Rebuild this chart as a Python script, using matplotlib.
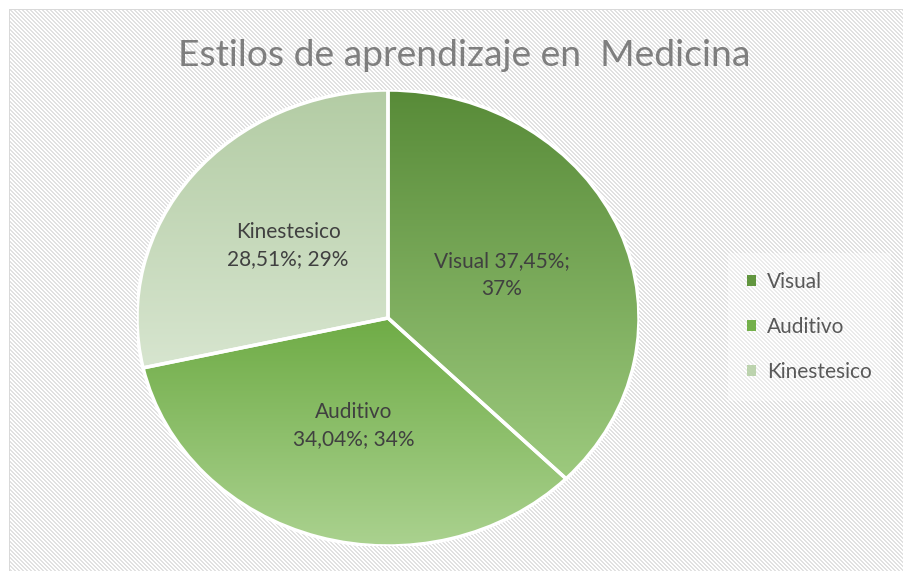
import numpy as np
import matplotlib
matplotlib.use('Agg')
from matplotlib import pyplot as plt
from matplotlib.patches import Wedge, Rectangle
from matplotlib.colors import LinearSegmentedColormap

plt.rcParams['font.family'] = ['Lato', 'DejaVu Sans']

# datos
categorias = ['Visual', 'Auditivo', 'Kinestesico']
porcentajes = [37.45, 34.04, 28.51]
etiquetas = ['Visual 37,45%;\n37%', 'Auditivo\n34,04%; 34%', 'Kinestesico\n28,51%; 29%']
titulo = 'Estilos de aprendizaje en  Medicina'

# colores (arriba, abajo) del degradado de cada sector
degradados = [('#588b38', '#9dca7e'), ('#6fac46', '#abd290'), ('#b3cca4', '#d7e5cf')]
colores_leyenda = ['#62963f', '#74b04b', '#bcd3ae']

W, H = 904, 571
fig = plt.figure(figsize=(W / 100, H / 100), dpi=100)
fig.patch.set_facecolor('white')

# fondo rayado
bg = fig.add_axes([0, 0, 1, 1])
yy, xx = np.mgrid[0:H, 0:W]
rayas = ((xx - yy) % 4) < 2
img = np.where(rayas, 0.88, 1.0)
img[yy < 9] = 1.0
img[xx < 9] = 1.0
img[(yy == 9) & (xx >= 9)] = 0.85
img[(xx == 9) & (yy >= 9)] = 0.85
bg.imshow(img, cmap='gray', vmin=0, vmax=1, extent=[0, W, H, 0], interpolation='nearest', aspect='auto')
bg.set_xlim(0, W)
bg.set_ylim(H, 0)
bg.axis('off')

# pastel
cx, cy, rx, ry = 388, 318, 251, 228
ax = fig.add_axes([(cx - rx) / W, 1 - (cy + ry) / H, 2 * rx / W, 2 * ry / H])
wedges, _ = ax.pie(porcentajes, startangle=90, counterclock=False, radius=1,
                   colors=colores_leyenda, wedgeprops=dict(linewidth=0))
ax.set_aspect('auto')
ax.axis('off')

for w, (top, bot) in zip(wedges, degradados):
    w.set_facecolor('none')
    verts = w.get_patch_transform().transform(w.get_path().vertices)
    y0, y1 = verts[:, 1].min(), verts[:, 1].max()
    cmap = LinearSegmentedColormap.from_list('g', [bot, top])
    grad = np.linspace(0, 1, 256).reshape(-1, 1)
    im = ax.imshow(grad, cmap=cmap, extent=[-1, 1, y0, y1], origin='lower',
                   aspect='auto', interpolation='bilinear', zorder=1)
    im.set_clip_path(w)
    borde = Wedge(w.center, w.r, w.theta1, w.theta2, facecolor='none',
                  edgecolor='white', linewidth=2.5, zorder=3)
    ax.add_patch(borde)

ax.set_xlim(-1, 1)
ax.set_ylim(-1, 1)

# etiquetas de datos (posición en la bisectriz del sector)
dist = [0.49, 0.49, 0.51]
for w, txt, d in zip(wedges, etiquetas, dist):
    ang = np.deg2rad((w.theta1 + w.theta2) / 2)
    ax.text(d * np.cos(ang), d * np.sin(ang), txt, ha='center', va='center',
            fontsize=15, color='#404040', linespacing=1.45, zorder=4)

fig.text(464 / W, 1 - 56 / H, titulo, ha='center', va='center', fontsize=26.8, color='#7f7f7f')

handles = [Rectangle((0, 0), 1, 1, facecolor=c, edgecolor='none') for c in colores_leyenda]
leg = fig.legend(handles, categorias, loc='center left', bbox_to_anchor=(718 / W, 1 - 327 / H),
                 frameon=True, fontsize=15, labelcolor='#595959', handlelength=0.42,
                 handleheight=0.42, handletextpad=0.55, labelspacing=1.2, borderpad=0.9)
leg.get_frame().set_facecolor('white')
leg.get_frame().set_alpha(0.35)
leg.get_frame().set_edgecolor('none')
leg.get_frame().set_boxstyle('square', pad=0)

fig.savefig('out.png', dpi=100)
